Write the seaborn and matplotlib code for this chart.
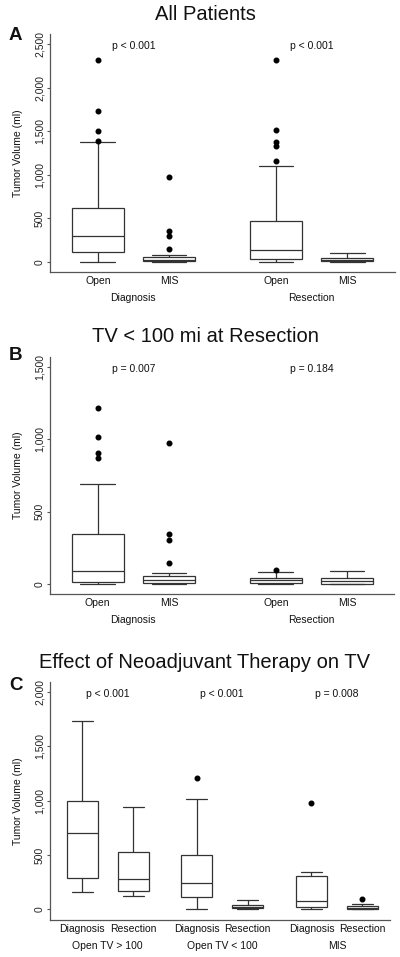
import numpy as np
import pandas as pd
import matplotlib
matplotlib.use("Agg")
import matplotlib.pyplot as plt
import matplotlib.transforms as mtransforms
import seaborn as sns

sns.set_theme(style="ticks")
plt.rcParams["font.family"] = ["Liberation Sans", "DejaVu Sans"]

# ------------------------------------------------------------
# Data (five-number summaries + outliers, ml)
# ------------------------------------------------------------

# Panel A - All Patients
a_labels = ["Open", "MIS", "Open", "MIS"]
a_groups = ["Diagnosis", "Resection"]
a_pvals = ["p < 0.001", "p < 0.001"]
a_low = [0, 0, 0, 0]
a_q1 = [107, 8, 31, 4]
a_med = [291, 20, 134, 15]
a_q3 = [615, 50, 465, 46]
a_high = [1373, 73, 1100, 96]
a_out = [[1392, 1507, 1733, 2316], [142, 300, 350, 970],
         [1154, 1327, 1376, 1511, 2316], []]

# Panel B - TV < 100 ml at resection
b_labels = ["Open", "MIS", "Open", "MIS"]
b_groups = ["Diagnosis", "Resection"]
b_pvals = ["p = 0.007", "p = 0.184"]
b_low = [0, 0, 0, 0]
b_q1 = [16, 5, 8, 2]
b_med = [87, 25, 25, 18]
b_q3 = [345, 53, 40, 39]
b_high = [688, 74, 85, 92]
b_out = [[872, 902, 1012, 1212], [143, 304, 343, 971], [94], []]

# Panel C - Effect of neoadjuvant therapy
c_labels = ["Diagnosis", "Resection"] * 3
c_groups = ["Open TV > 100", "Open TV < 100", "MIS"]
c_pvals = ["p < 0.001", "p < 0.001", "p = 0.008"]
c_low = [159, 123, 0, 0, 0, 0]
c_q1 = [291, 165, 113, 12, 25, 6]
c_med = [704, 276, 239, 25, 74, 15]
c_q3 = [998, 524, 499, 42, 303, 31]
c_high = [1737, 946, 1014, 83, 346, 46]
c_out = [[], [], [1213], [], [974], [92]]


def amostra(lo, q1, med, q3, hi, out):
    # builds a small sample whose quartiles / whiskers match the summary
    k = len(out) + 1
    return [lo] * k + [q1] * k + [med] * k + [q3, hi] + sorted(out)


def monta(pos, low, q1, med, q3, high, out):
    linhas = []
    for i, p in enumerate(pos):
        for v in amostra(low[i], q1[i], med[i], q3[i], high[i], out[i]):
            linhas.append({"pos": p, "valor": v})
    return pd.DataFrame(linhas)


LINE = "#333333"
AXIS = "#555555"
FS = 7.5


def painel(ax, df, pos, width, labels, groups, pvals, ylim, yticks, xlim,
           title, letter, title_y, letter_y):
    sns.boxplot(
        data=df, x="pos", y="valor", native_scale=True, orient="x",
        width=width, color="white", linecolor=LINE, linewidth=0.9,
        fliersize=3.3,
        flierprops={"marker": "o", "markerfacecolor": "black",
                    "markeredgecolor": "black"},
        capwidths=0.67 * width,
        ax=ax,
    )
    ax.set_xlim(*xlim)
    ax.set_ylim(*ylim)
    ax.set_yticks(yticks)
    ax.set_yticklabels([f"{t:,}" for t in yticks], rotation=90,
                       va="center", fontsize=FS, color="#222222")
    ax.set_xticks(pos)
    ax.set_xticklabels(labels, fontsize=FS, color="#111111")
    ax.tick_params(axis="x", length=0, pad=3)
    ax.tick_params(axis="y", length=2.5, width=0.8, color=AXIS, pad=1.5)
    ax.set_xlabel("")
    ax.set_ylabel("Tumor Volume (ml)", fontsize=FS, color="#111111")
    ax.yaxis.set_label_coords(-0.078, 0.5)
    for s in ["top", "right"]:
        ax.spines[s].set_visible(False)
    for s in ["left", "bottom"]:
        ax.spines[s].set_color(AXIS)
        ax.spines[s].set_linewidth(0.9)

    trans = mtransforms.blended_transform_factory(ax.transData, ax.transAxes)
    centros = [(pos[2 * i] + pos[2 * i + 1]) / 2 for i in range(len(groups))]
    for c, g, p in zip(centros, groups, pvals):
        ax.text(c, -0.109, g, transform=trans, ha="center", va="center",
                fontsize=FS, color="#111111")
        ax.text(c, 0.948, p, transform=trans, ha="center", va="center",
                fontsize=FS, color="#111111")

    fig.text(0.5125, 1 - title_y / 957, title, ha="center", va="center",
             fontsize=14.5, color="#111111")
    fig.text(15.5 / 400, 1 - letter_y / 957, letter, ha="center",
             va="center", fontsize=13.5, fontweight="bold", color="#111111")


fig = plt.figure(figsize=(4.0, 9.57), dpi=100)

ax_a = fig.add_axes([50 / 400, 1 - 272 / 957, 345 / 400, 238 / 957])
ax_b = fig.add_axes([50 / 400, 1 - 594 / 957, 344 / 400, 237 / 957])
ax_c = fig.add_axes([50 / 400, 1 - 920 / 957, 340 / 400, 238 / 957])

pos_ab = [0, 1, 2.5, 3.5]
pos_c = [0, 1, 2.25, 3.25, 4.5, 5.5]

df_a = monta(pos_ab, a_low, a_q1, a_med, a_q3, a_high, a_out)
df_b = monta(pos_ab, b_low, b_q1, b_med, b_q3, b_high, b_out)
df_c = monta(pos_c, c_low, c_q1, c_med, c_q3, c_high, c_out)

painel(ax_a, df_a, pos_ab, 0.73, a_labels, a_groups, a_pvals,
       (-118, 2618), [0, 500, 1000, 1500, 2000, 2500], (-0.67, 4.17),
       "All Patients", "A", 15, 36)
painel(ax_b, df_b, pos_ab, 0.73, b_labels, b_groups, b_pvals,
       (-69, 1567), [0, 500, 1000, 1500], (-0.67, 4.16),
       "TV < 100 mi at Resection", "B", 337, 356)
painel(ax_c, df_c, pos_c, 0.61, c_labels, c_groups, c_pvals,
       (-98, 2092), [0, 500, 1000, 1500, 2000], (-0.63, 6.04),
       "Effect of Neoadjuvant Therapy on TV", "C", 662, 685)

fig.savefig("out.png", dpi=100, facecolor="white")
